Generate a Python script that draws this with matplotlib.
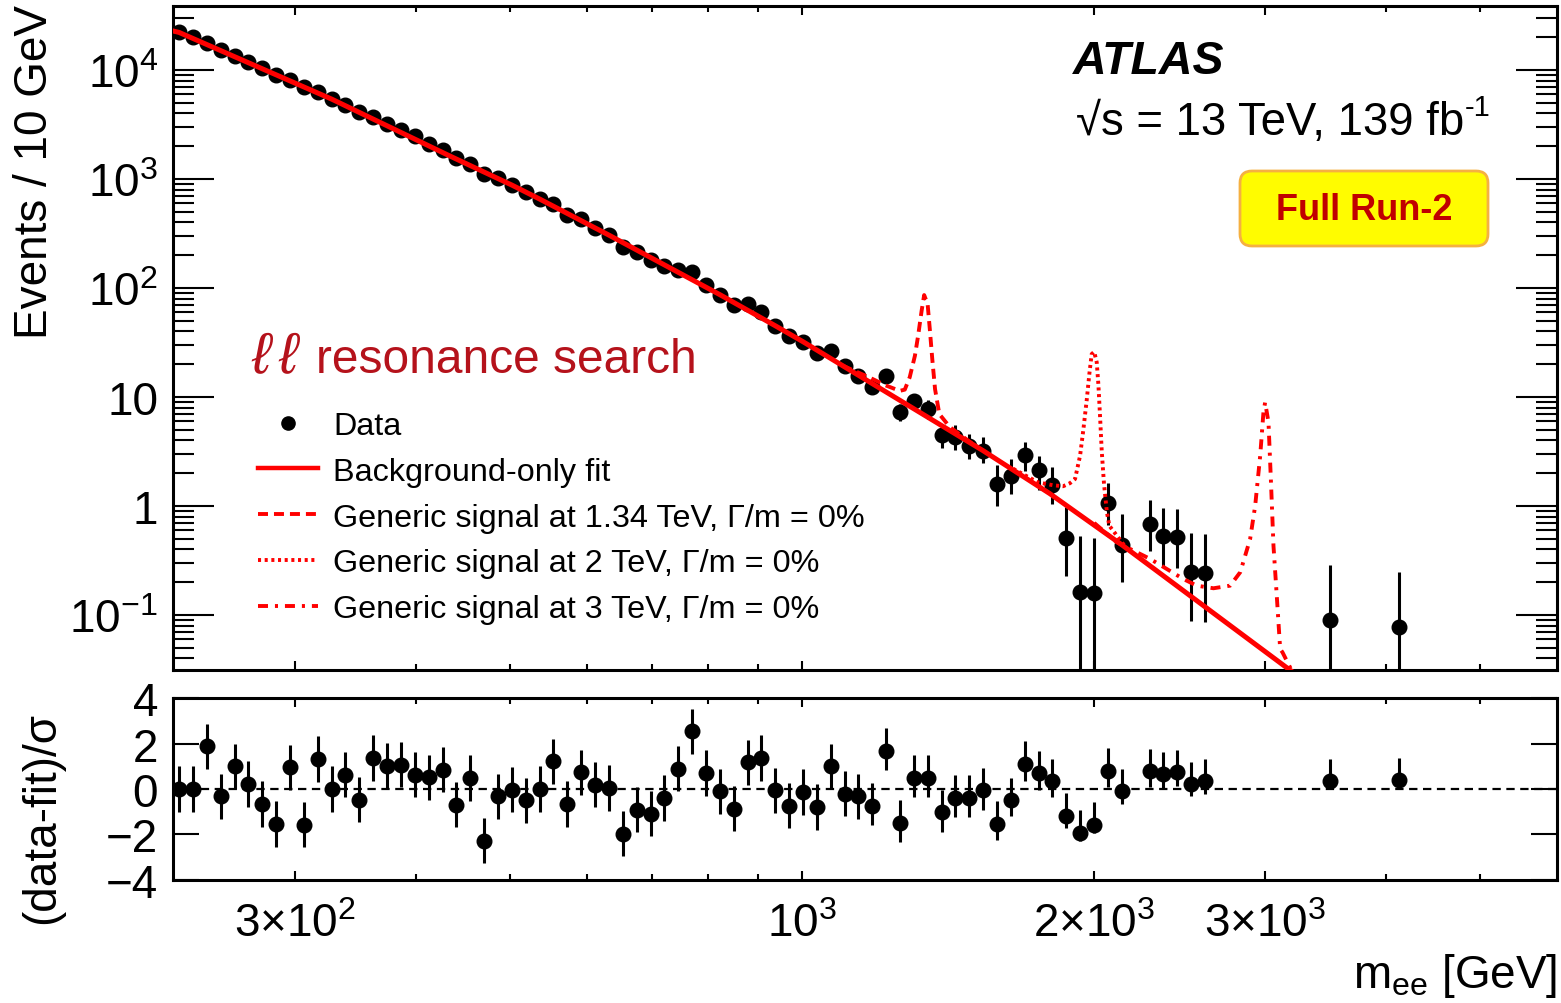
import numpy as np
import matplotlib.pyplot as plt
from matplotlib.lines import Line2D
from matplotlib.patches import FancyBboxPatch
from matplotlib.transforms import IdentityTransform
from matplotlib.ticker import FixedLocator, FixedFormatter, NullFormatter

plt.rcParams['font.family'] = ['Liberation Sans', 'DejaVu Sans']
plt.rcParams['mathtext.fontset'] = 'custom'
plt.rcParams['mathtext.rm'] = 'Liberation Sans'
plt.rcParams['mathtext.it'] = 'Liberation Sans:italic'
plt.rcParams['mathtext.bf'] = 'Liberation Sans:bold'
plt.rcParams['lines.scale_dashes'] = False

W, H = 1561, 1004

# bin centres [GeV] of the non-empty bins
mass = [228.1, 235.7, 243.6, 251.8, 260.2, 268.9, 277.9, 287.2, 296.8, 306.7,
        317.0, 327.6, 338.5, 349.8, 361.5, 373.6, 386.1, 399.0, 412.4, 426.2,
        440.5, 455.2, 470.4, 486.2, 502.4, 519.2, 536.6, 554.5, 573.1, 592.2,
        612.0, 632.5, 653.7, 675.5, 698.1, 721.5, 745.6, 770.5, 796.3, 822.9,
        850.5, 878.7, 908.1, 938.5, 969.9, 1002.3, 1035.8, 1070.5, 1106.3, 1143.3,
        1181.5, 1221.0, 1261.4, 1303.6, 1347.2, 1392.2, 1438.8, 1486.9, 1536.6, 1588.0,
        1641.1, 1695.9, 1752.6, 1811.2, 1871.8, 1934.4, 1999.1, 2066.0, 2135.1,
        2280.3, 2356.6, 2435.4, 2516.8, 2601.0,
        3497.0, 4122.0]

# events / 10 GeV
events = [22180, 19950, 17700, 15250, 13530, 11920, 10430, 9060, 8090, 6940,
          6240, 5420, 4770, 4090, 3680, 3200, 2820, 2470, 2100, 1860,
          1550, 1370, 1110, 1015, 881, 755, 656, 590, 470, 430,
          355, 306, 239, 213, 182, 160, 147, 139, 107, 87,
          70, 71.3, 59.8, 45.1, 36.1, 32.2, 25.3, 26.6, 19.1, 15.7,
          12.4, 15.7, 7.3, 9.25, 7.76, 4.51, 4.27, 3.53, 3.22, 1.59,
          1.90, 2.96, 2.15, 1.55, 0.506, 0.164, 0.158, 1.06, 0.441,
          0.684, 0.535, 0.516, 0.250, 0.243,
          0.0906, 0.0771]

# error bar ends for the last points (earlier ones are hidden by the markers)
tail_lo = [6.05, 8.0, 6.3, 3.4, 3.3, 2.7, 2.5, 1.0, 1.3, 2.1, 1.4, 1.04, 0.23,
           0.001, 0.001, 0.67, 0.20, 0.39, 0.28, 0.27, 0.089, 0.086, 0.001, 0.001]
tail_hi = [8.7, 10.6, 9.3, 5.3, 5.5, 4.6, 4.3, 2.4, 2.7, 3.9, 2.9, 2.26, 0.97,
           0.53, 0.51, 1.62, 0.85, 1.14, 0.95, 0.93, 0.57, 0.55, 0.29, 0.25]

# (data-fit)/sigma
pulls = [0.0, 0.0, 1.88, -0.32, 1.0, 0.22, -0.66, -1.54, 0.95, -1.57,
         1.32, 0.0, 0.63, -0.47, 1.37, 1.03, 1.07, 0.63, 0.51, 0.85,
         -0.69, 0.49, -2.28, -0.32, -0.03, -0.5, 0.0, 1.22, -0.66, 0.73,
         0.19, 0.04, -1.97, -0.91, -1.09, -0.40, 0.90, 2.54, 0.71, -0.10,
         -0.87, 1.17, 1.37, -0.06, -0.74, -0.13, -0.80, 1.00, -0.21, -0.32,
         -0.74, 1.69, -1.50, 0.49, 0.49, -1.03, -0.40, -0.40, -0.06, -1.53,
         -0.47, 1.12, 0.71, 0.37, -1.18, -1.94, -1.57, 0.81, -0.07,
         0.81, 0.66, 0.73, 0.23, 0.34,
         0.34, 0.38]
pull_up = [1.0] * 59 + [1.0, 0.96, 1.0, 0.95, 0.97, 1.0, 1.0, 1.0, 1.0, 0.95,
                        0.95, 0.95, 0.99, 0.98, 1.0, 0.99, 0.99]
pull_dn = [1.0] * 50 + [0.85] * 9 + [0.7, 0.74, 0.78, 0.74, 0.72, 0.54, 0.37, 0.37,
                                     0.7, 0.58, 0.7, 0.6, 0.6, 0.53, 0.54, 0.28, 0.34]

# background-only fit
fit_mass = [224.5, 228.1, 327.6, 433.2, 502.4, 536.6, 632.5, 822.9, 938.5,
            1002.3, 1536.6, 1800, 2135, 3200]
fit_vals = [22940, 22180, 5420, 1636, 881, 656, 306, 87, 45.1,
            32.2, 3.22, 1.30, 0.441, 0.0301]

# signal + background curves
sig1_mass = [1100, 1172, 1222, 1261, 1276, 1291, 1307, 1317, 1328, 1336, 1347,
             1354, 1362, 1371, 1385, 1420, 1500]
sig1_vals = [19.5, 15.2, 12.7, 11.4, 11.7, 15.2, 23.9, 36.5, 61.9, 86.3, 71.3,
             42.1, 22.3, 11.8, 6.98, 5.3, 3.70]
sig2_mass = [1650, 1750, 1815, 1858, 1888, 1911, 1934, 1949, 1965, 1977, 1988,
             2000, 2012, 2020, 2028, 2036, 2047, 2061, 2073, 2150]
sig2_vals = [2.2, 1.65, 1.55, 1.52, 1.62, 1.77, 2.9, 5.0, 9.5, 16.3, 24.8,
             26.0, 20.8, 12.9, 6.55, 3.19, 1.59, 0.88, 0.66, 0.43]
sig3_mass = [2000, 2110, 2284, 2471, 2551, 2654, 2761, 2828, 2895, 2930, 2965,
             2988, 3000, 3024, 3041, 3060, 3084, 3109, 3126, 3200]
sig3_vals = [0.70, 0.465, 0.327, 0.214, 0.186, 0.176, 0.186, 0.247, 0.498, 1.006,
             2.89, 7.24, 8.94, 5.86, 1.77, 0.432, 0.150, 0.0488, 0.0455, 0.0301]

red = '#ff0000'

fig = plt.figure(figsize=(W / 100, H / 100), dpi=100)
x0, x1 = 173.3, 1557.3
ax1 = fig.add_axes([x0 / W, 1 - 671 / H, (x1 - x0) / W, (671 - 6.7) / H])
ax2 = fig.add_axes([x0 / W, 1 - 880.7 / H, (x1 - x0) / W, (880.7 - 699.3) / H])

ev = np.array(events)
nt = len(tail_lo)
lo = np.concatenate([ev[:-nt], tail_lo])
hi = np.concatenate([ev[:-nt], tail_hi])
ax1.errorbar(mass, events, yerr=[ev - lo, hi - ev], fmt='o', color='k', ms=10.5,
             elinewidth=2.2, capsize=0, zorder=3)
ax1.plot(fit_mass, fit_vals, color=red, lw=3.6, zorder=5)
ax1.plot(sig1_mass, sig1_vals, color=red, lw=2.8, dashes=(7.2, 4.3), zorder=6)
ax1.plot(sig2_mass, sig2_vals, color=red, lw=2.8, dashes=(2.2, 2.6), zorder=6)
ax1.plot(sig3_mass, sig3_vals, color=red, lw=2.8, dashes=(7.2, 5, 2.2, 5), zorder=6)

ax1.set_xscale('log')
ax1.set_yscale('log')
ax1.set_xlim(225, 6000)
ax1.set_ylim(0.0313, 39000)

ax2.errorbar(mass, pulls, yerr=[pull_dn, pull_up], fmt='o', color='k', ms=10.5,
             elinewidth=2.2, capsize=0, zorder=3)
ax2.axhline(0, color='k', lw=1.6, dashes=(6, 4), zorder=1)
ax2.set_xscale('log')
ax2.set_xlim(225, 6000)
ax2.set_ylim(-4, 4)

xmaj = [300, 1000, 2000, 3000]
xmin = [400, 500, 600, 700, 800, 900, 4000, 5000]
for ax in (ax1, ax2):
    for s in ax.spines.values():
        s.set_linewidth(2.2)
    ax.xaxis.set_major_locator(FixedLocator(xmaj))
    ax.xaxis.set_minor_locator(FixedLocator(xmin))
    ax.xaxis.set_minor_formatter(NullFormatter())
    ax.tick_params(axis='x', which='major', direction='in', top=True, bottom=True,
                   length=6.5, width=1.5)
    ax.tick_params(axis='x', which='minor', direction='in', top=True, bottom=True,
                   length=4.5, width=1.5)
    ax.tick_params(axis='y', which='both', direction='in', left=True, right=True,
                   width=1.5, labelsize=33, pad=11)

ax1.xaxis.set_major_formatter(NullFormatter())
ax2.xaxis.set_major_formatter(FixedFormatter([r'3$\times$10$^{2}$', r'10$^{3}$',
                                              r'2$\times$10$^{3}$', r'3$\times$10$^{3}$']))
ax2.tick_params(axis='x', which='major', labelsize=33, pad=16)

ymaj = [0.1, 1, 10, 100, 1000, 10000]
ax1.yaxis.set_major_locator(FixedLocator(ymaj))
ax1.yaxis.set_major_formatter(FixedFormatter([r'10$^{-1}$', '1', '10', r'10$^{2}$',
                                              r'10$^{3}$', r'10$^{4}$']))
ax1.yaxis.set_minor_locator(FixedLocator([d * 10.0 ** k for k in range(-2, 5)
                                          for d in range(2, 10)]))
ax1.yaxis.set_minor_formatter(NullFormatter())
ax1.tick_params(axis='y', which='major', length=29.5)
ax1.tick_params(axis='y', which='minor', length=15)

ax2.yaxis.set_major_locator(FixedLocator([-4, -2, 0, 2, 4]))
ax2.yaxis.set_major_formatter(FixedFormatter(['\u22124', '\u22122', '0', '2', '4']))
ax2.yaxis.set_minor_locator(FixedLocator([]))
ax2.tick_params(axis='y', which='major', length=18.7)

# legend
handles = [Line2D([], [], marker='o', color='k', ls='none', ms=9.5),
           Line2D([], [], color=red, lw=3.2),
           Line2D([], [], color=red, lw=2.8, dashes=(7.2, 4.3)),
           Line2D([], [], color=red, lw=2.8, dashes=(2.2, 2.6)),
           Line2D([], [], color=red, lw=2.8, dashes=(7.2, 5, 2.2, 5))]
labels = ['Data', 'Background-only fit',
          'Generic signal at 1.34 TeV, \u0393/m = 0%',
          'Generic signal at 2 TeV, \u0393/m = 0%',
          'Generic signal at 3 TeV, \u0393/m = 0%']
ax1.legend(handles, labels, loc='upper left', bbox_to_anchor=(0.0612, 0.390),
           frameon=False, fontsize=23.3, handlelength=1.86, handletextpad=0.46,
           labelspacing=0.49, borderpad=0, borderaxespad=0)


# texts
def fx(px):
    return px / W


def fy(py):
    return 1 - py / H


fig.text(fx(35), fy(5), 'Events / 10 GeV', rotation=90, ha='center', va='top', fontsize=33)
fig.text(fx(42), fy(818), '(data-fit)/\u03c3', rotation=90, ha='center', va='center',
         fontsize=33)
fig.text(fx(1557), fy(988), r'm$_{\mathrm{ee}}$ [GeV]', ha='right', va='baseline',
         fontsize=33)
fig.text(fx(1073), fy(74), 'ATLAS', fontsize=33.5, fontweight='bold', style='italic',
         va='baseline')
lumi = fig.text(fx(1076), fy(135), '\u221as = 13 TeV, 139 fb', fontsize=32.8, va='baseline')
fig.canvas.draw()
bb = lumi.get_window_extent()
fig.text((bb.x1 + 1) / W, fy(116), '-1', fontsize=21, va='baseline')

red_dark = '#b5121b'
fig.text(fx(251), fy(373), r'$\ell\,\ell$', fontsize=42, color=red_dark, va='baseline')
fig.text(fx(316), fy(373), 'resonance search', fontsize=34.5, color=red_dark,
         va='baseline')

box = FancyBboxPatch((1240, H - 247), 248, 75, boxstyle='round,pad=0,rounding_size=12',
                     transform=IdentityTransform(), fc='#fffc00', ec='#f5b041', lw=2)
fig.add_artist(box)
fig.text(fx(1364), fy(210), 'Full Run-2', fontsize=26, fontweight='bold',
         color='#c00000', ha='center', va='center')

fig.savefig('out.png', dpi=100)
